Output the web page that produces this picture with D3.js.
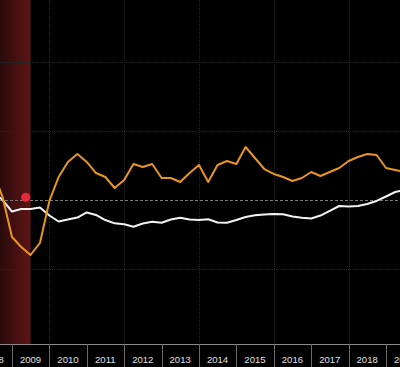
<!DOCTYPE html>
<html>
<head>
<meta charset="utf-8">
<script src="https://cdn.jsdelivr.net/npm/d3@7/dist/d3.min.js"></script>
<style>
  html, body { margin: 0; padding: 0; background: #000; }
  svg { display: block; }
</style>
</head>
<body>
<svg id="chart" width="400" height="367"></svg>
<script>
// ---- data ----
const quarters = [
  "2008-07-01","2008-10-01","2009-01-01","2009-04-01","2009-07-01","2009-10-01",
  "2010-01-01","2010-04-01","2010-07-01","2010-10-01",
  "2011-01-01","2011-04-01","2011-07-01","2011-10-01",
  "2012-01-01","2012-04-01","2012-07-01","2012-10-01",
  "2013-01-01","2013-04-01","2013-07-01","2013-10-01",
  "2014-01-01","2014-04-01","2014-07-01","2014-10-01",
  "2015-01-01","2015-04-01","2015-07-01","2015-10-01",
  "2016-01-01","2016-04-01","2016-07-01","2016-10-01",
  "2017-01-01","2017-04-01","2017-07-01","2017-10-01",
  "2018-01-01","2018-04-01","2018-07-01","2018-10-01",
  "2019-01-01","2019-04-01","2019-07-01"
];
const orangeSeries = [
  4.06, 0.43, -5.36, -6.81, -7.97, -6.23,
  -0.14, 3.33, 5.51, 6.67,
  5.51, 3.91, 3.33, 1.74,
  2.90, 5.22, 4.78, 5.22,
  3.19, 3.19, 2.61, 3.91,
  5.07, 2.61, 5.07, 5.65,
  5.22, 7.68, 6.09, 4.49,
  3.77, 3.33, 2.75, 3.19,
  4.06, 3.48, 4.06, 4.64,
  5.65, 6.23, 6.67, 6.52,
  4.64, 4.35, 4.06
];
const whiteSeries = [
  1.16, 0.00, -1.67, -1.30, -1.30, -1.09,
  -2.25, -3.12, -2.83, -2.54,
  -1.81, -2.17, -2.90, -3.38,
  -3.52, -3.87, -3.41, -3.14,
  -3.29, -2.83, -2.57, -2.83,
  -2.90, -2.80, -3.26, -3.29,
  -2.90, -2.46, -2.22, -2.10,
  -2.03, -2.07, -2.39, -2.57,
  -2.68, -2.25, -1.59, -0.87,
  -0.94, -0.87, -0.58, -0.14,
  0.51, 1.16, 1.45
];
const yearLabels = ["2008","2009","2010","2011","2012","2013","2014","2015","2016","2017","2018","2019"];
const gridYears = ["2010","2012","2014","2016","2018"];
const gridValues = [-10, 10, 20];
const recession = ["2007-12-01", "2009-07-01"];
const markerPoint = { date: "2009-05-15", value: 0.4 };

// ---- setup ----
const W = 400, H = 367, axisY = 344;
const parse = d3.timeParse("%Y-%m-%d");
const svg = d3.select("#chart");

const x = d3.scaleTime()
  .domain([new Date(2009, 0, 1), new Date(2019, 0, 1)])
  .range([12, 386]);
const y = d3.scaleLinear().domain([-10, 20]).range([269, 62]);

svg.append("rect").attr("width", W).attr("height", H).attr("fill", "#000");

// recession band gradient
const defs = svg.append("defs");
const grad = defs.append("linearGradient").attr("id", "recGrad")
  .attr("x1", "0").attr("x2", "1").attr("y1", "0").attr("y2", "0");
grad.append("stop").attr("offset", "0%").attr("stop-color", "#2a0a0a");
grad.append("stop").attr("offset", "100%").attr("stop-color", "#5e1515");

const rx0 = Math.max(0, x(parse(recession[0])));
const rx1 = x(parse(recession[1]));
svg.append("rect")
  .attr("x", rx0).attr("y", 0)
  .attr("width", rx1 - rx0).attr("height", axisY)
  .attr("fill", "url(#recGrad)");

// grid
svg.append("g").selectAll("line").data(gridYears).join("line")
  .attr("x1", d => Math.round(x(parse(d + "-01-01"))) + 0.5)
  .attr("x2", d => Math.round(x(parse(d + "-01-01"))) + 0.5)
  .attr("y1", 0).attr("y2", axisY)
  .attr("stroke", "#262626").attr("stroke-width", 1)
  .attr("stroke-dasharray", "1,1");
svg.append("g").selectAll("line").data(gridValues).join("line")
  .attr("x1", 0).attr("x2", W)
  .attr("y1", d => Math.round(y(d)) + 0.5)
  .attr("y2", d => Math.round(y(d)) + 0.5)
  .attr("stroke", "#262626").attr("stroke-width", 1)
  .attr("stroke-dasharray", "1,1");

// zero dashed line
svg.append("line")
  .attr("x1", 0).attr("x2", W)
  .attr("y1", Math.round(y(0)) + 0.5).attr("y2", Math.round(y(0)) + 0.5)
  .attr("stroke", "#7a7a7a").attr("stroke-width", 1)
  .attr("stroke-dasharray", "3,2");

// lines
const dates = quarters.map(parse);
const line = d3.line().x(d => x(d[0])).y(d => y(d[1]));
svg.append("path")
  .datum(dates.map((d, i) => [d, whiteSeries[i]]))
  .attr("d", line).attr("fill", "none")
  .attr("stroke", "#f2f2f2").attr("stroke-width", 2)
  .attr("stroke-linejoin", "round");
svg.append("path")
  .datum(dates.map((d, i) => [d, orangeSeries[i]]))
  .attr("d", line).attr("fill", "none")
  .attr("stroke", "#e8951f").attr("stroke-width", 2)
  .attr("stroke-linejoin", "round");

// marker
svg.append("circle")
  .attr("cx", x(parse(markerPoint.date)))
  .attr("cy", y(markerPoint.value))
  .attr("r", 4.5)
  .attr("fill", "#e62a3a");

// x axis
svg.append("line")
  .attr("x1", 0).attr("x2", W)
  .attr("y1", axisY + 0.5).attr("y2", axisY + 0.5)
  .attr("stroke", "#8a8a8a").attr("stroke-width", 1);

const sepYears = yearLabels.slice(1);
svg.append("g").selectAll("line").data(sepYears).join("line")
  .attr("x1", d => Math.round(x(parse(d + "-01-01"))) + 0.5)
  .attr("x2", d => Math.round(x(parse(d + "-01-01"))) + 0.5)
  .attr("y1", axisY).attr("y2", H)
  .attr("stroke", "#6a6a6a").attr("stroke-width", 1);

svg.append("g").selectAll("text").data(yearLabels).join("text")
  .attr("x", d => x(parse(d + "-07-01")))
  .attr("y", 363)
  .attr("text-anchor", "middle")
  .attr("font-family", "'Liberation Sans', Arial, sans-serif")
  .attr("font-size", "9.5px")
  .attr("fill", "#e0e0e0")
  .text(d => d);
</script>
</body>
</html>
